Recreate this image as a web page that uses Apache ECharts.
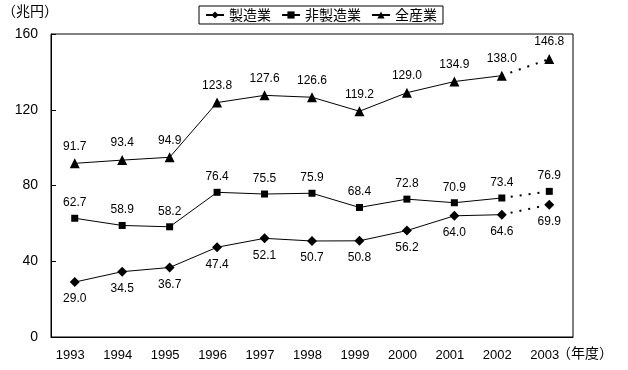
<!DOCTYPE html>
<html><head><meta charset="utf-8">
<script src="https://cdn.jsdelivr.net/npm/echarts@6/dist/echarts.min.js"></script>
<style>html,body{margin:0;padding:0;background:#fff}#c{width:628px;height:370px}</style>
</head><body><div id="c"></div>
<script>
const years = ['1993','1994','1995','1996','1997','1998','1999','2000','2001','2002','2003'];
const seriesNames = ['製造業','非製造業','全産業'];
const manufacturing = [29.0,34.5,36.7,47.4,52.1,50.7,50.8,56.2,64.0,64.6,69.9];
const nonManufacturing = [62.7,58.9,58.2,76.4,75.5,75.9,68.4,72.8,70.9,73.4,76.9];
const allIndustries = [91.7,93.4,94.9,123.8,127.6,126.6,119.2,129.0,134.9,138.0,146.8];
const yTicks = [0,40,80,120,160];
const yUnit = '（兆円）';
const xUnit = '（年度）';

const FONT = "'Liberation Sans','Noto Sans CJK JP',sans-serif";
const symbols = ['diamond','rect','triangle'];
const symbolSizes = [10,7,10];
const labelPos = ['bottom','top','top'];
const allData = [manufacturing, nonManufacturing, allIndustries];
const lastIdx = years.length - 1;

const series = [];
allData.forEach((vals, i) => {
  const solid = vals.map((v, k) => k < lastIdx ? v : null);
  const dotted = vals.map((v, k) => {
    if (k === lastIdx) return {value: v};
    if (k === lastIdx - 1) return {value: v, symbol: 'none', label: {show: false}};
    return null;
  });
  const common = {
    type: 'line',
    symbol: symbols[i],
    symbolSize: symbolSizes[i],
    itemStyle: {color: '#000'},
    label: {
      show: true, position: labelPos[i], distance: 6,
      color: '#000', fontSize: 12, fontFamily: FONT,
      formatter: p => (typeof p.value === 'number' ? p.value : p.data.value).toFixed(1)
    },
    animation: false,
    emphasis: {disabled: true}
  };
  series.push(Object.assign({}, common, {
    name: seriesNames[i], data: solid,
    lineStyle: {color: '#000', width: 1}
  }));
  series.push(Object.assign({}, common, {
    name: seriesNames[i] + '_d', data: dotted,
    lineStyle: {color: '#000', width: 2, type: [2, 7]}
  }));
});

const chart = echarts.init(document.getElementById('c'));
chart.setOption({
  backgroundColor: '#fff',
  animation: false,
  textStyle: {fontFamily: FONT},
  grid: {left: 51, right: 55, top: 34, bottom: 33, show: true, borderColor: '#000', borderWidth: 1},
  legend: {
    data: seriesNames,
    left: 199, top: 6,
    padding: [2, 6, 2, 6],
    borderColor: '#000', borderWidth: 1,
    itemWidth: 18, itemHeight: 9, itemGap: 10,
    textStyle: {fontSize: 14, color: '#000', fontFamily: "'Noto Sans CJK JP',sans-serif"}
  },
  xAxis: {
    type: 'category', data: years, boundaryGap: true,
    axisLine: {lineStyle: {color: '#000', width: 1}},
    axisTick: {show: false},
    axisLabel: {color: '#000', fontSize: 13, margin: 12, fontFamily: FONT, padding: [0, 9, 0, 0]}
  },
  yAxis: {
    type: 'value', min: yTicks[0], max: yTicks[yTicks.length - 1], interval: 40,
    axisLine: {show: true, lineStyle: {color: '#000', width: 1}},
    axisTick: {show: true, inside: true, length: 5, lineStyle: {color: '#000'}},
    splitLine: {show: false},
    axisLabel: {color: '#000', fontSize: 14, margin: 13, fontFamily: FONT}
  },
  graphic: [
    {type: 'text', left: 2, top: 4, style: {text: yUnit, fill: '#000', font: "14px 'Noto Sans CJK JP',sans-serif"}},
    {type: 'text', left: 557, top: 346, style: {text: xUnit, fill: '#000', font: "14px 'Noto Sans CJK JP',sans-serif"}}
  ],
  series: series
});
</script></body></html>
